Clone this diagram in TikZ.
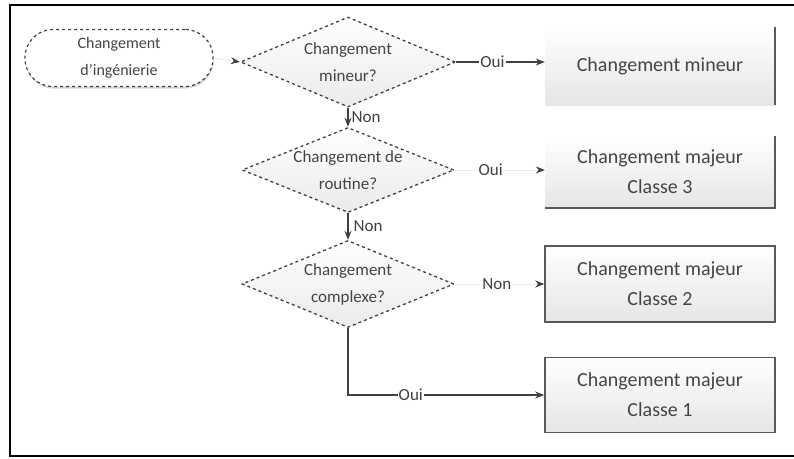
\documentclass[tikz,border=0pt]{standalone}
\usepackage{fontspec}
\setmainfont{Carlito}
\usetikzlibrary{shapes.geometric,arrows.meta,shadows}
\definecolor{linec}{HTML}{404040}
\definecolor{txtc}{HTML}{444444}
\definecolor{faint}{HTML}{EBEBEB}
\tikzset{
  every node/.style={text=txtc},
  term/.style={draw=linec, dashed, line width=1.2pt, fill=white, rounded corners=28pt,
    minimum width=188pt, minimum height=57pt, align=center, font=\fontsize{16}{27}\selectfont,
    drop shadow={opacity=0.35, shadow xshift=0.5pt, shadow yshift=-2pt}},
  decision/.style={diamond, draw=linec, dashed, line width=1.3pt, top color=white, bottom color=black!8,
    inner sep=0pt, aspect=2.4, align=center, font=\fontsize{17}{27}\selectfont},
  outbox/.style={rectangle, top color=white, bottom color=black!10, minimum width=230pt,
    align=center, font=\fontsize{20}{30}\selectfont, inner sep=0pt},
  boxline/.style={draw=black!65, line width=1.6pt},
  conn/.style={draw=linec, line width=1.2pt, arrows={-Stealth[length=9pt,width=7pt]}},
  ghost/.style={draw=faint, line width=1pt, arrows={-Stealth[length=9pt,width=7pt,color=linec]}},
  lbl/.style={fill=white, inner sep=1pt, text=linec, font=\fontsize{17}{19}\selectfont}
}
\begin{document}
\begin{tikzpicture}[x=1pt,y=-1pt]
\useasboundingbox (0,0) rectangle (794,458);
% frame
\draw[line width=2pt, black] (810,5) -- (10,5) -- (10,456) -- (810,456);

\node[term] (start) at (119,58) {Changement\\d'ingénierie};
\node[decision, minimum width=215pt, minimum height=90pt] (d1) at (348,62) {Changement\\mineur?};
\node[decision, minimum width=212pt, minimum height=85pt] (d2) at (348,170) {Changement de\\routine?};
\node[decision, minimum width=212pt, minimum height=87pt] (d3) at (348,284) {Changement\\complexe?};

\node[outbox, minimum height=78pt] (b1) at (660,66) {Changement mineur};
\node[outbox, minimum height=71pt] (b2) at (660,172) {Changement majeur\\Classe 3};
\node[outbox, minimum height=76pt, boxline] (b3) at (660,284) {Changement majeur\\Classe 2};
\node[outbox, minimum height=75pt, boxline] (b4) at (660,395) {Changement majeur\\Classe 1};
\draw[boxline] (b1.north east) -- (b1.south east);
\draw[boxline] (b2.north east) -- (b2.south east) -- (b2.south west);

% connectors
\draw[ghost] (start.east) -- (d1.west);
\draw[conn] (d1.east) -- node[lbl, pos=0.41] {Oui} (b1.west |- d1.east);
\draw[conn] (d1.south) -- node[lbl, right, xshift=2pt, fill=none] {Non} (d2.north);
\draw[ghost] (d2.east) -- node[lbl, pos=0.4] {Oui} (b2.west |- d2.east);
\draw[conn] (d2.south) -- node[lbl, right, xshift=4pt, fill=none] {Non} (d3.north);
\draw[ghost] (d3.east) -- node[lbl, pos=0.47] {Non} (b3.west);
\draw[conn] (d3.south) |- node[lbl, pos=0.66] {Oui} (b4.west);
\end{tikzpicture}
\end{document}
